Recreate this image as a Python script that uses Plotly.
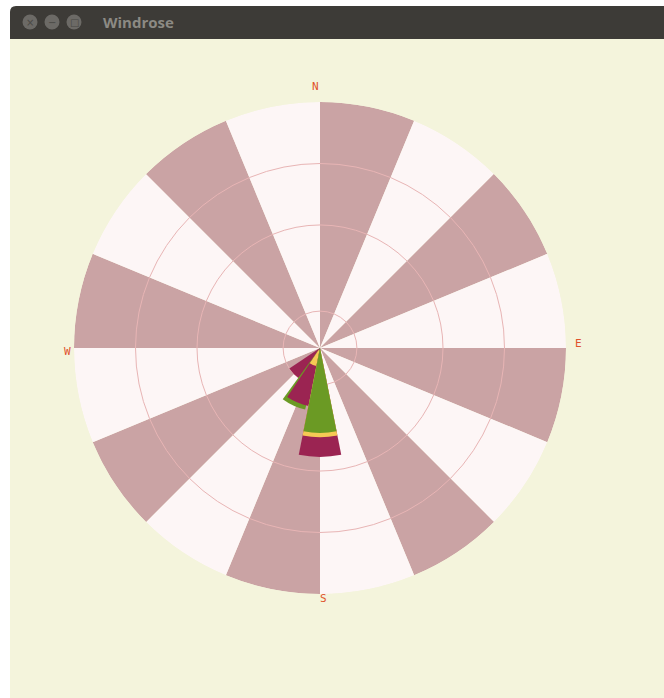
import plotly.graph_objects as go

# ---- data -------------------------------------------------------------
directions = ["N", "NNE", "NE", "ENE", "E", "ESE", "SE", "SSE",
              "S", "SSW", "SW", "WSW", "W", "WNW", "NW", "NNW"]
sector_angles = [11.25 + 22.5 * k for k in range(16)]

bar_dirs = ["SW", "SSW", "S"]            # drawing order
bar_theta = {"SW": 225.0, "SSW": 202.5, "S": 180.0}
speed_bins = ["0-2", "2-4", "4-6", ">6"]
bin_colors = ["#2f4f86", "#f6c955", "#6b9a24", "#9b2452"]
# frequency (%) per speed bin, listed for SW, SSW, S
freq = {
    "0-2": [0.0, 0.4, 0.3],
    "2-4": [0.0, 3.0, 14.5],
    "4-6": [0.0, 10.3, 13.8],
    ">6":  [6.0, 9.6, 17.7],
}
# small angular offset of individual bin wedges (degrees)
theta_shift = {"4-6": [0.0, 2.3, 0.0]}
grid_vals = [6, 20, 30]
r_max = 40

# ---- page geometry ----------------------------------------------------
W, H = 664, 698


def px(x):
    return x / W


def py(y):
    return 1 - y / H


cx, cy, R = 320, 348, 246
dom_x = [px(cx - R), px(cx + R)]
dom_y = [py(cy + R), py(cy - R)]

fig = go.Figure()

# alternating background sectors
fig.add_trace(go.Barpolar(
    r=[r_max] * 16, theta=sector_angles, width=[22.5] * 16,
    marker=dict(color=["#caa3a4" if k % 2 == 0 else "#fdf6f6" for k in range(16)],
                line=dict(width=0)),
    hoverinfo="skip", showlegend=False, subplot="polar",
))

# wind bars: each bin is a wedge from the centre; within a direction the
# larger wedges are drawn first so the smaller ones stay visible
for i, d in enumerate(bar_dirs):
    layers = []
    for b, col in zip(speed_bins, bin_colors):
        v = freq[b][i]
        if v > 0:
            shift = theta_shift.get(b, [0.0] * len(bar_dirs))[i]
            layers.append((v, bar_theta[d] + shift, col, b))
    layers.sort(key=lambda e: -e[0])
    for v, th, col, b in layers:
        fig.add_trace(go.Barpolar(
            r=[v], theta=[th], width=[22.5], name=f"{d} {b}",
            marker=dict(color=col, line=dict(width=0)),
            showlegend=False, subplot="polar2",
        ))

common_angular = dict(rotation=90, direction="clockwise", showgrid=False,
                      showline=False, showticklabels=False, ticks="")
fig.update_layout(
    width=W, height=H, margin=dict(l=0, r=0, t=0, b=0),
    paper_bgcolor="white", plot_bgcolor="rgba(0,0,0,0)",
    polar=dict(
        domain=dict(x=dom_x, y=dom_y), bgcolor="rgba(0,0,0,0)",
        radialaxis=dict(range=[0, r_max], showgrid=False, showline=False,
                        showticklabels=False, ticks=""),
        angularaxis=common_angular, barmode="overlay",
    ),
    polar2=dict(
        domain=dict(x=dom_x, y=dom_y), bgcolor="rgba(0,0,0,0)",
        radialaxis=dict(range=[0, r_max], tickvals=grid_vals, showgrid=True,
                        gridcolor="#e8b5b5", gridwidth=1, showline=False,
                        showticklabels=False, ticks=""),
        angularaxis=common_angular, barmode="overlay",
    ),
)

# window frame: beige client area and title bar
shapes = [
    dict(type="rect", xref="paper", yref="paper", x0=px(10), x1=1.0,
         y0=0, y1=py(39), fillcolor="#f4f4dc", line=dict(width=0), layer="below"),
    dict(type="path", xref="paper", yref="paper",
         path=(f"M {px(10)},{py(39)} L {px(10)},{py(12)} "
               f"Q {px(10)},{py(6)} {px(16)},{py(6)} L 1,{py(6)} L 1,{py(39)} Z"),
         fillcolor="#3d3b37", line=dict(width=0), layer="below"),
]
for bx in [30, 52, 74]:
    shapes.append(dict(type="circle", xref="paper", yref="paper",
                       x0=px(bx - 7.5), x1=px(bx + 7.5), y0=py(22 + 7.5), y1=py(22 - 7.5),
                       fillcolor="#6c6a66", line=dict(width=0), layer="below"))
fig.update_layout(shapes=shapes)

ann = [
    dict(text="<b>Windrose</b>", x=px(101), y=py(22), xanchor="left", yanchor="middle",
         font=dict(family="Open Sans", size=15, color="#8c8a84")),
    dict(text="×", x=px(30), y=py(22), font=dict(family="DejaVu Sans", size=10, color="#4a4945")),
    dict(text="−", x=px(52), y=py(22), font=dict(family="DejaVu Sans", size=10, color="#4a4945")),
    dict(text="□", x=px(74), y=py(22), font=dict(family="DejaVu Sans", size=10, color="#4a4945")),
]
for label, x, y in [("N", 315, 87), ("E", 578, 343), ("S", 323, 598), ("W", 67, 351)]:
    ann.append(dict(text=label, x=px(x), y=py(y), xanchor="center", yanchor="middle",
                    font=dict(family="DejaVu Sans Mono", size=11, color="#e0522c")))
for a in ann:
    a.update(xref="paper", yref="paper", showarrow=False)
    a.setdefault("xanchor", "center")
    a.setdefault("yanchor", "middle")
fig.update_layout(annotations=ann)

fig.write_html("out.html")
